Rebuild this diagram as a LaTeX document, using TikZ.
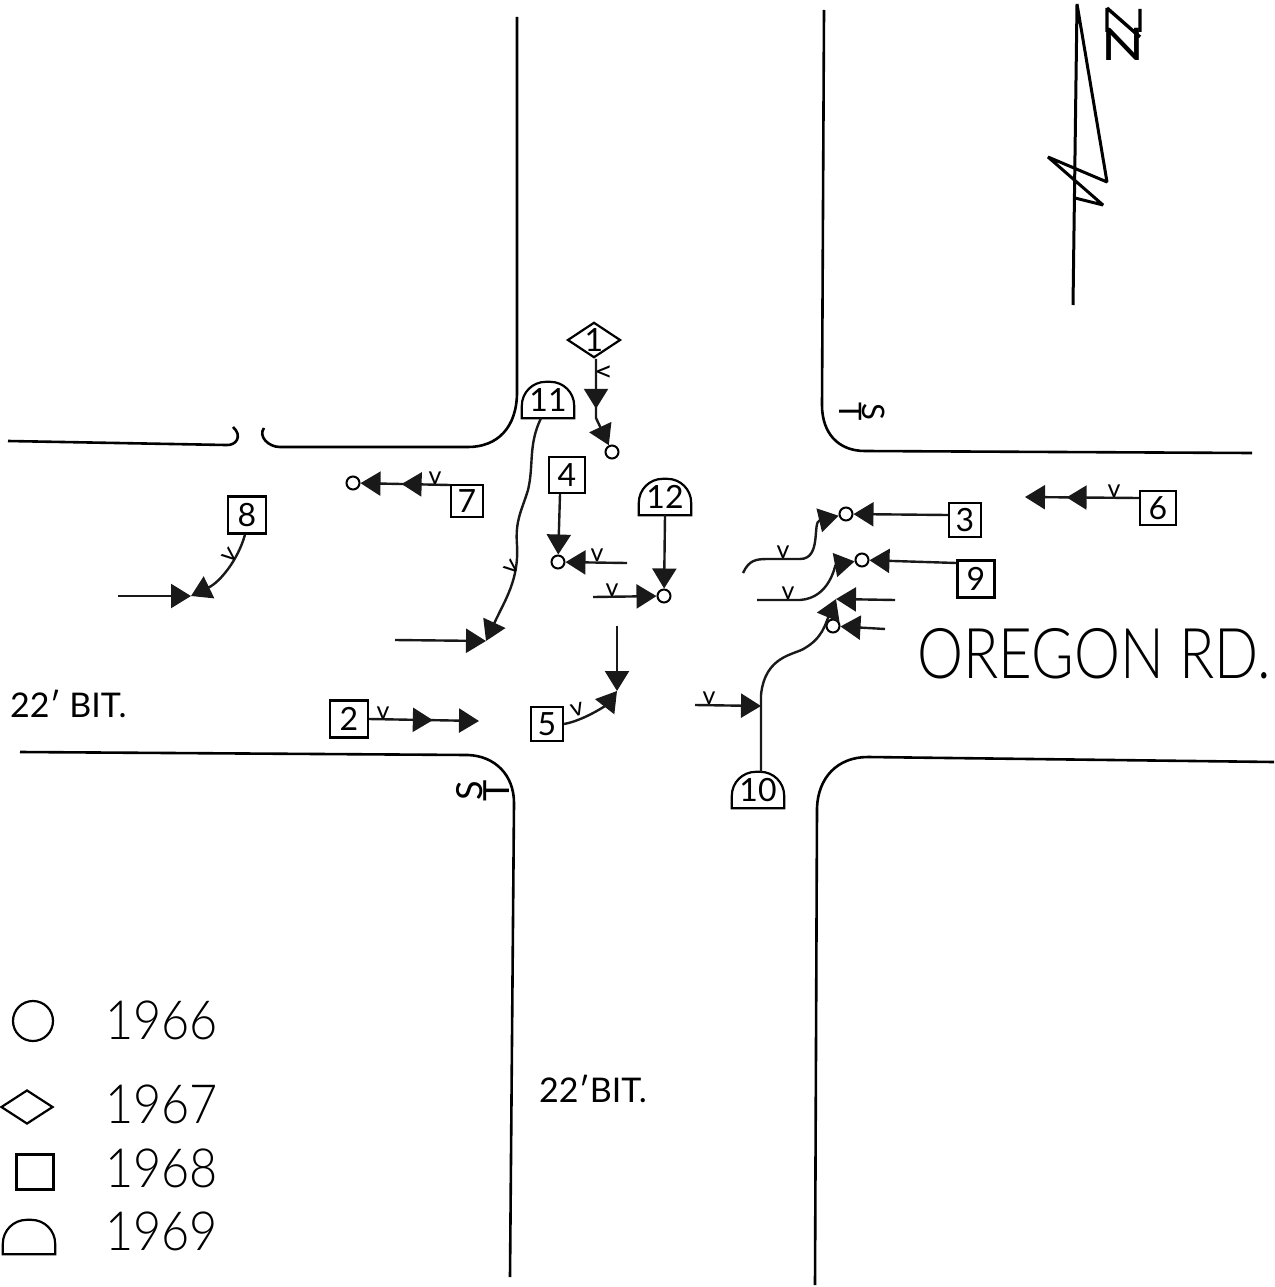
\documentclass[tikz,border=0pt]{standalone}
\usepackage{fontspec}
\setmainfont{Lato}[UprightFont=* Light]
\newfontfamily\tickfont{Lato}
\usetikzlibrary{shapes.geometric, arrows.meta, decorations.markings}
\newcommand{\bigtext}[1]{\scalebox{.83}[1]{#1}}

\begin{document}
\begin{tikzpicture}[
  x=1pt, y=-1pt,
  road/.style    = {line width=2.6pt},
  arr/.style     = {-{Triangle[length=20pt,width=24pt]}, line width=2.4pt, black!90},
  midtip/.style  = {postaction={decorate}, decoration={markings,
                    mark=at position #1 with {\arrow{Triangle[length=20pt,width=24pt]}}}},
  yrbox/.style   = {rectangle, draw, line width=2.2pt, inner sep=0pt, minimum size=34pt,
                    font=\tickfont\fontsize{32}{32}\selectfont},
  hump/.style    = {inner sep=0pt, minimum width=52pt, minimum height=36pt,
                    font=\tickfont\fontsize{32}{32}\selectfont,
                    append after command={\pgfextra{
                      \draw[line width=2.2pt] (\tikzlastnode.south west) -- (\tikzlastnode.south east)
                        [rounded corners=24pt] -- (\tikzlastnode.north east) -- (\tikzlastnode.north west)
                        [sharp corners] -- cycle;}}},
  dia/.style     = {diamond, draw, line width=2.2pt, inner sep=0pt, aspect=1.5,
                    minimum width=52pt, minimum height=35pt,
                    font=\tickfont\fontsize{32}{32}\selectfont},
  dot/.style     = {circle, draw, fill=white, line width=2pt, inner sep=0pt, minimum size=13pt},
  vlbl/.style    = {font=\tickfont\fontsize{25}{25}\selectfont, inner sep=0pt, anchor=south},
  lbl/.style     = {font=\tickfont\fontsize{34}{34}\selectfont, inner sep=0pt},
  yearlbl/.style = {font=\fontsize{54}{54}\selectfont, inner sep=0pt, anchor=west},
]
\useasboundingbox (0,0) rectangle (1274,1287);

% ── Streets ───────────────────────────────────────────────────────────────────
\draw[road] (517,17) -- (517,392) .. controls (517,428) and (497,447) .. (468,447) -- (280,447)
  .. controls (268,447) and (258,436) .. (264,428);
\draw[road] (8,441) -- (226,445) .. controls (236,446) and (243,436) .. (233,427);
\draw[road] (824,10) -- (822,405) .. controls (822,433) and (838,451) .. (865,451) -- (1252,453);
\draw[road] (20,752) -- (468,755) .. controls (495,756) and (514,775) .. (514,803) -- (510,1277);
\draw[road] (1274,762) -- (868,757) .. controls (837,757) and (818,778) .. (817,808) -- (815,1285);

% ── North arrow ───────────────────────────────────────────────────────────────
\draw[line width=3pt, line join=bevel] (1073,305) -- (1077,4) -- (1107,182) -- (1048,157)
  -- (1103,205) -- (1075,198);
\node[font=\tickfont\fontsize{45}{45}\selectfont, inner sep=0pt] (north) at (1123,44)
  {\scalebox{1.25}[1]{N}};
\draw[line width=3.4pt] (1107,8) -- (1107,32) (1140,9) -- (1140,32) (1107,8) -- (1140,37);

% ── Year shapes ───────────────────────────────────────────────────────────────
\node[dia]   (n1)  at (594,340) {1};
\node[yrbox, minimum width=38pt, minimum height=37pt] (n2) at (349,719) {2};
\node[yrbox, minimum width=32pt] (n3) at (965,520) {3};
\node[yrbox, minimum size=36pt]  (n4) at (567,475) {4};
\node[yrbox, minimum width=32pt] (n5) at (547,724) {5};
\node[yrbox, minimum width=36pt] (n6) at (1158,508) {6};
\node[yrbox, minimum size=32pt]  (n7) at (467,501) {7};
\node[yrbox, minimum width=38pt, minimum height=37pt] (n8) at (247,515) {8};
\node[yrbox, minimum size=37pt]  (n9) at (976,579) {9};
\node[hump]  (n10) at (758,790) {10};
\node[hump]  (n11) at (548,400) {11};
\node[hump]  (n12) at (665,497) {12};

% ── Impact points ─────────────────────────────────────────────────────────────
\node[dot] (o1)  at (612,452) {};
\node[dot] (o3)  at (846,514) {};
\node[dot] (o4)  at (558,562) {};
\node[dot] (o7)  at (353,483) {};
\node[dot] (o9)  at (862,560) {};
\node[dot] (o10) at (833,626) {};
\node[dot] (o12) at (664,596) {};

% ── Free ends ─────────────────────────────────────────────────────────────────
\coordinate (e2)  at (479,721);
\coordinate (e3)  at (743,573);
\coordinate (e4)  at (627,563);
\coordinate (e5)  at (617,626);
\coordinate (j5)  at (617,691);
\coordinate (e6)  at (1025,497);
\coordinate (e8)  at (118,596);
\coordinate (j8)  at (191,596);
\coordinate (e9)  at (757,600);
\coordinate (e10a) at (895,600);
\coordinate (j10a) at (836,599);
\coordinate (e10b) at (885,629);
\coordinate (e10c) at (695,705);
\coordinate (j10c) at (761,706);
\coordinate (e11) at (395,640);
\coordinate (j11) at (486,641);
\coordinate (e12) at (593,597);

% ── Arrows ────────────────────────────────────────────────────────────────────
\draw[arr, midtip=0.56] ([xshift=2pt]n1.south) -- (596,418) -- (o1);
\draw[arr, midtip=0.58] (n2.east) -- (e2);
\draw[arr] ([yshift=5pt]n3.west) -- (o3);
\draw[arr] (e3) .. controls (749,560) and (756,559) .. (768,559) -- (800,559)
  .. controls (822,559) and (812,522) .. (o3);
\draw[arr] ([xshift=-7pt]n4.south) -- (o4);
\draw[arr] (e4) -- (o4);
\draw[arr] (n5.east) .. controls (585,720) and (606,705) .. (j5);
\draw[arr] (e5) -- (j5);
\draw[arr, midtip=0.635] ([yshift=10pt]n6.west) -- (e6);
\draw[arr, midtip=0.54] ([yshift=16pt]n7.west) -- (o7);
\draw[arr] ([xshift=-2pt]n8.south) .. controls (238,560) and (220,582) .. (j8);
\draw[arr] (e8) -- (j8);
\draw[arr] ([yshift=16pt]n9.west) -- (o9);
\draw[arr] (e9) -- (800,600) .. controls (830,598) and (835,565) .. (o9);
\draw[arr] (n10.north) ++(3,0) -- (761,695) .. controls (765,655) and (795,655) .. (805,648)
  .. controls (822,638) and (825,625) .. (j10a);
\draw[arr] (e10a) -- (j10a);
\draw[arr] (e10b) -- (o10);
\draw[arr] (e10c) -- (j10c);
\draw[arr] ([xshift=-7pt]n11.south) .. controls (528,445) and (534,465) .. (528,490)
  .. controls (522,510) and (515,520) .. (517,545) .. controls (519,580) and (505,600) .. (j11);
\draw[arr] (e11) -- (j11);
\draw[arr] (n12.south) -- (o12);
\draw[arr] (e12) -- (o12);

% ── Ticks ─────────────────────────────────────────────────────────────────────
\node[vlbl, rotate=-90] (v1) at (597,372) {v};
\node[vlbl] (v2) at (383,720) {v};
\node[vlbl] (v3) at (783,559) {v};
\node[vlbl] (v4) at (597,562) {v};
\node[vlbl, rotate=15] (v5) at (579,716) {v};
\node[vlbl] (v6) at (1114,498) {v};
\node[vlbl] (v7) at (435,485) {v};
\node[vlbl, rotate=50] (v8) at (235,560) {v};
\node[vlbl] (v9) at (788,600) {v};
\node[vlbl] (v10) at (709,705) {v};
\node[vlbl, rotate=50] (v11) at (517,572) {v};
\node[vlbl] (v12) at (612,597) {v};

% ── Labels ────────────────────────────────────────────────────────────────────
\node[font=\fontsize{70}{70}\selectfont, inner sep=0pt, anchor=west] (oregon) at (917,654)
  {\bigtext{OREGON RD.}};
\node[lbl, anchor=west] (bitw) at (10,704) {22′ BIT.};
\node[lbl, anchor=west] (bits) at (539,1089) {22′BIT.};
\node[font=\tickfont\fontsize{36}{27}\selectfont, inner sep=0pt, align=center, rotate=90]  (stw) at (483,791) {S\\T};
\node[font=\tickfont\fontsize{31}{22}\selectfont, inner sep=0pt, align=center, rotate=-90] (ste) at (862,412) {S\\T};

% ── Legend ────────────────────────────────────────────────────────────────────
\node[circle, draw, line width=2.2pt, inner sep=0pt, minimum size=40pt] (key66) at (33,1021) {};
\node[dia, minimum height=34pt] (key67) at (27,1107) {};
\node[yrbox, minimum width=37pt, minimum height=35pt] (key68) at (35,1172) {};
\node[hump, minimum height=34pt] (key69) at (29,1237) {};
\node[yearlbl] (year66) at (105,1020) {\scalebox{.9}[1]{1966}};
\node[yearlbl] (year67) at (105,1104) {\scalebox{.9}[1]{1967}};
\node[yearlbl] (year68) at (105,1168) {\scalebox{.9}[1]{1968}};
\node[yearlbl] (year69) at (105,1231) {\scalebox{.9}[1]{1969}};

\end{tikzpicture}
\end{document}
